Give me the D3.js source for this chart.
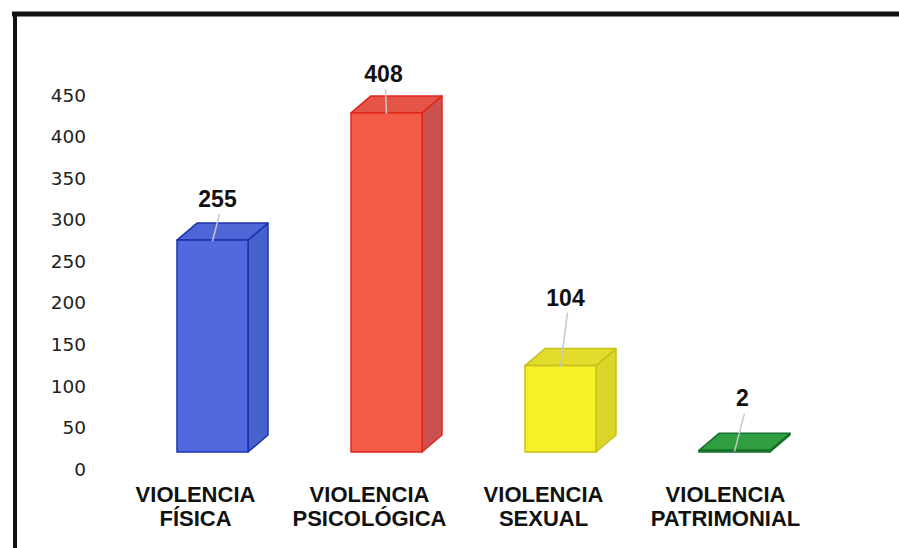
<!DOCTYPE html>
<html>
<head>
<meta charset="utf-8">
<script src="https://cdn.jsdelivr.net/npm/d3@7"></script>
<style>
    body { margin: 0; background: #fff; }
    svg { display: block; }
    .tick-label { font-family: "DejaVu Sans", sans-serif; font-size: 18.5px; fill: #222; }
    .value-label { font-family: "Liberation Sans", Arial, sans-serif; font-size: 23px; font-weight: bold; fill: #111; }
    .cat-label { font-family: "Liberation Sans", Arial, sans-serif; font-size: 22px; font-weight: bold; fill: #111; }
</style>
</head>
<body>
<div id="chart"></div>
<script>
// Data
const categories = ['VIOLENCIA FÍSICA', 'VIOLENCIA PSICOLÓGICA', 'VIOLENCIA SEXUAL', 'VIOLENCIA PATRIMONIAL'];
const values = [255, 408, 104, 2];
const yTicks = [0, 50, 100, 150, 200, 250, 300, 350, 400, 450];

// Face colours per bar: front, side, top, outline
const palette = [
    { front: '#5069dc', side: '#4862cc', top: '#4f67d6', edge: '#1c32b0' },
    { front: '#f45c48', side: '#c9524e', top: '#e45548', edge: '#e3261c' },
    { front: '#f6f028', side: '#dcd628', top: '#e2dd2c', edge: '#c8c018' },
    { front: '#2fa444', side: '#248a36', top: '#2e9e40', edge: '#17702a' }
];

const width = 899, height = 548;
const depthX = 20, depthY = 17;   // 3d offset of the back face
const floorDrop = 17;             // front face sits below the back-wall axis

// label placement tweaks (Excel placed them by hand)
const labelLift = [33, 31, 60, 44];
const labelShift = [5, -3, 5, 8];
const catShift = [-17, -17, -17, -9];

const svg = d3.select('#chart')
    .append('svg')
    .attr('width', width)
    .attr('height', height);

svg.append('rect')
    .attr('width', width)
    .attr('height', height)
    .attr('fill', '#fff');

const x = d3.scaleBand()
    .domain(categories)
    .range([125.5, 821.5])
    .paddingInner(0.592)
    .paddingOuter(0.296);

const y = d3.scaleLinear()
    .domain([0, 450])
    .range([469, 95]);

// Frame
svg.append('line')
    .attr('x1', 12).attr('y1', 14).attr('x2', width).attr('y2', 14)
    .attr('stroke', '#111').attr('stroke-width', 5);
svg.append('line')
    .attr('x1', 15).attr('y1', 12).attr('x2', 15).attr('y2', height)
    .attr('stroke', '#111').attr('stroke-width', 4);

// Y tick labels (no axis line in the original)
svg.append('g')
    .selectAll('text')
    .data(yTicks)
    .enter()
    .append('text')
    .attr('class', 'tick-label')
    .attr('x', 86)
    .attr('y', d => y(d))
    .attr('dy', '0.36em')
    .attr('text-anchor', 'end')
    .text(d => d);

// 3d bars
const bars = svg.append('g')
    .selectAll('g')
    .data(values)
    .enter()
    .append('g')
    .attr('class', 'bar');

const bw = x.bandwidth();
const base = y(0) - floorDrop;

bars.each(function(d, i) {
    const g = d3.select(this);
    const c = palette[i];
    const x0 = x(categories[i]);
    const x1 = x0 + bw;
    const top = y(d) - floorDrop;

    // side face
    g.append('polygon')
        .attr('points', [[x1, top], [x1 + depthX, top - depthY], [x1 + depthX, base - depthY], [x1, base]].join(' '))
        .attr('fill', c.side)
        .attr('stroke', c.edge)
        .attr('stroke-width', 1.5)
        .attr('stroke-linejoin', 'round');

    // top face
    g.append('polygon')
        .attr('points', [[x0, top], [x0 + depthX, top - depthY], [x1 + depthX, top - depthY], [x1, top]].join(' '))
        .attr('fill', c.top)
        .attr('stroke', c.edge)
        .attr('stroke-width', 1.5)
        .attr('stroke-linejoin', 'round');

    // front face
    g.append('rect')
        .attr('x', x0)
        .attr('y', top)
        .attr('width', bw)
        .attr('height', base - top)
        .attr('fill', c.front)
        .attr('stroke', c.edge)
        .attr('stroke-width', 1.5);

    // value label and leader line
    const lx = x0 + bw / 2 + labelShift[i];
    const ly = top - labelLift[i];

    g.append('line')
        .attr('x1', lx + 2)
        .attr('y1', ly + 7)
        .attr('x2', x0 + bw / 2)
        .attr('y2', top + 1)
        .attr('stroke', '#c8c8c8')
        .attr('stroke-width', 1.5);

    g.append('text')
        .attr('class', 'value-label')
        .attr('x', lx)
        .attr('y', ly)
        .attr('text-anchor', 'middle')
        .text(d);
});

// Category labels, two lines each
const catLabels = svg.append('g')
    .selectAll('text')
    .data(categories)
    .enter()
    .append('text')
    .attr('class', 'cat-label')
    .attr('text-anchor', 'middle')
    .attr('transform', (d, i) => `translate(${x(d) + bw / 2 + catShift[i]},0)`);

catLabels.each(function(d) {
    const parts = d.split(' ');
    const t = d3.select(this);
    t.append('tspan').attr('x', 0).attr('y', 502).text(parts[0]);
    t.append('tspan').attr('x', 0).attr('y', 526).text(parts.slice(1).join(' '));
});
</script>
</body>
</html>
